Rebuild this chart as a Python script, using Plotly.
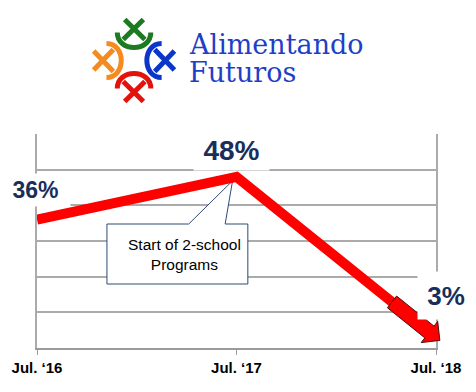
import math
import plotly.graph_objects as go

# ---------------- data ----------------
categories = ["Jul. \u201816", "Jul. \u201817", "Jul. \u201818"]
values = [0.36, 0.48, 0.03]
value_labels = ["36%", "48%", "3%"]
callout_text = "Start of 2-school<br>Programs"
logo_lines = ["Alimentando", "Futuros"]

# ---------------- geometry ----------------
W, H = 476, 392
ML, MR, MT, MB = 31, 40, 134, 44
PW, PH = W - ML - MR, H - MT - MB
XR = [0, len(categories) - 1]
YR = [0, 0.6]
xs = list(range(len(categories)))


def to_px(x, y):
    return (ML + (x - XR[0]) / (XR[1] - XR[0]) * PW,
            MT + (YR[1] - y) / (YR[1] - YR[0]) * PH)


def to_data(px, py):
    return (XR[0] + (px - ML) / PW * (XR[1] - XR[0]),
            YR[1] - (py - MT) / PH * (YR[1] - YR[0]))


def to_paper(px, py):
    return ((px - ML) / PW, (H - MB - py) / PH)


def path_from(points, conv, close=True):
    s = "M " + " L ".join("%.5f,%.5f" % conv(*p) for p in points)
    return s + (" Z" if close else "")


NAVY = "#1a2e5a"
RED = "#ff0000"
GRID = "#ababab"

fig = go.Figure()
fig.add_trace(go.Scatter(x=xs, y=values, mode="lines",
                         line=dict(color=RED, width=10),
                         hoverinfo="skip", showlegend=False))

shapes = []

# ---- callout box (pointer to the peak) ----
px1, py1 = to_px(xs[1], values[1])
tipc = (px1 - 4, py1 + 4)
callout_pts = [(102, 224), (185, 224), tipc, (222, 224), (245, 224), (245, 284), (102, 284)]
shapes.append(dict(type="path", xref="x", yref="y", layer="between",
                   path=path_from(callout_pts, to_data),
                   fillcolor="white", line=dict(color="#2f4a75", width=1)))

# ---- block arrow at the end of the line ----
x1, y1 = to_px(xs[1], values[1])
x2, y2 = to_px(xs[2], values[2])
dx, dy = x2 - x1, y2 - y1
L = math.hypot(dx, dy)
ux, uy = dx / L, dy / L
nx, ny = -uy, ux
tip = (x2 + 5 * ux, y2 + 5 * uy)
hl, hw, sw, slen = 13.5, 13.5, 7.5, 62
base = (tip[0] - hl * ux, tip[1] - hl * uy)
start = (tip[0] - slen * ux, tip[1] - slen * uy)
arrow_pts = [
    (start[0] + sw * nx, start[1] + sw * ny),
    (base[0] + sw * nx, base[1] + sw * ny),
    (base[0] + hw * nx, base[1] + hw * ny),
    tip,
    (base[0] - hw * nx, base[1] - hw * ny),
    (base[0] - sw * nx, base[1] - sw * ny),
    (start[0] - sw * nx, start[1] - sw * ny),
]
shapes.append(dict(type="path", xref="paper", yref="paper", layer="above",
                   path=path_from(arrow_pts, to_paper),
                   fillcolor=RED, line=dict(color="#4a1010", width=1)))

# ---- logo motifs ----
C = (129.5, 60.5)
motifs = [((0, -1), "#1c7a22"), ((0, 1), "#e3120b"),
          ((-1, 0), "#f58a1f"), ((1, 0), "#0b36c9")]
for (ox, oy), col in motifs:
    perp = (-oy, ox)

    def P(u, v, ox=ox, oy=oy, perp=perp):
        return (C[0] + u * ox + v * perp[0], C[1] + u * oy + v * perp[1])

    fp = lambda p: "%.5f,%.5f" % to_paper(*p)
    # bowl facing the centre, with a cross on its outer side
    e1, c1, c2, e2 = P(28, -17), P(8, -17), P(8, 17), P(28, 17)
    a1, a2 = P(21, -11), P(41, 9.5)
    b1, b2 = P(21, 11), P(41, -9.5)
    d = ("M %s C %s %s %s M %s L %s M %s L %s"
         % (fp(e1), fp(c1), fp(c2), fp(e2), fp(a1), fp(a2), fp(b1), fp(b2)))
    shapes.append(dict(type="path", xref="paper", yref="paper", layer="above",
                       path=d, fillcolor="rgba(0,0,0,0)",
                       line=dict(color=col, width=5)))

annotations = []

# ---- value labels ----
label_sizes = [23, 28, 26]
label_w = [69, 75, 56]
label_h = [32, 40, 47]
label_xs = [-2, -5, 10]
label_ys = [29.6, 26.8, 41.8]
for i in range(len(values)):
    annotations.append(dict(x=xs[i], y=values[i], xref="x", yref="y",
                            text="<b>%s</b>" % value_labels[i], showarrow=False,
                            font=dict(family="Liberation Sans", size=label_sizes[i],
                                      color=NAVY),
                            bgcolor="white", borderpad=0,
                            width=label_w[i], height=label_h[i],
                            xshift=label_xs[i], yshift=label_ys[i]))

# ---- callout text ----
cx, cy = to_data(181, 254)
annotations.append(dict(x=cx, y=cy, xref="x", yref="y", text=callout_text,
                        showarrow=False,
                        font=dict(family="Liberation Sans", size=15.5, color="black")))

# ---- logo text ----
for line, py in zip(logo_lines, [44.5, 72.5]):
    lx, ly = to_paper(183, py)
    annotations.append(dict(x=lx, y=ly, xref="paper", yref="paper",
                            xanchor="left", yanchor="middle", text=line,
                            showarrow=False,
                            font=dict(family="DejaVu Serif", size=27,
                                      color="#1f3fc6")))

fig.update_layout(
    width=W, height=H,
    margin=dict(l=ML, r=MR, t=MT, b=MB, pad=0),
    paper_bgcolor="white", plot_bgcolor="white",
    showlegend=False,
    shapes=shapes, annotations=annotations,
    xaxis=dict(range=XR, tickvals=xs,
               ticktext=["<b>%s</b>" % c for c in categories],
               showgrid=False, zeroline=False,
               showline=True, linecolor="#9a9a9a", linewidth=2,
               ticks="outside", ticklen=5, tickcolor="#9a9a9a", tickwidth=1,
               tickfont=dict(family="Liberation Sans", size=15, color="black"),
               fixedrange=True),
    yaxis=dict(range=YR, dtick=0.1, tick0=0, showgrid=True, gridcolor=GRID,
               gridwidth=1.5, zeroline=False, showticklabels=False,
               showline=True, mirror=True, linecolor=GRID, linewidth=1.5,
               ticks="", fixedrange=True),
)

fig.write_html("out.html")
